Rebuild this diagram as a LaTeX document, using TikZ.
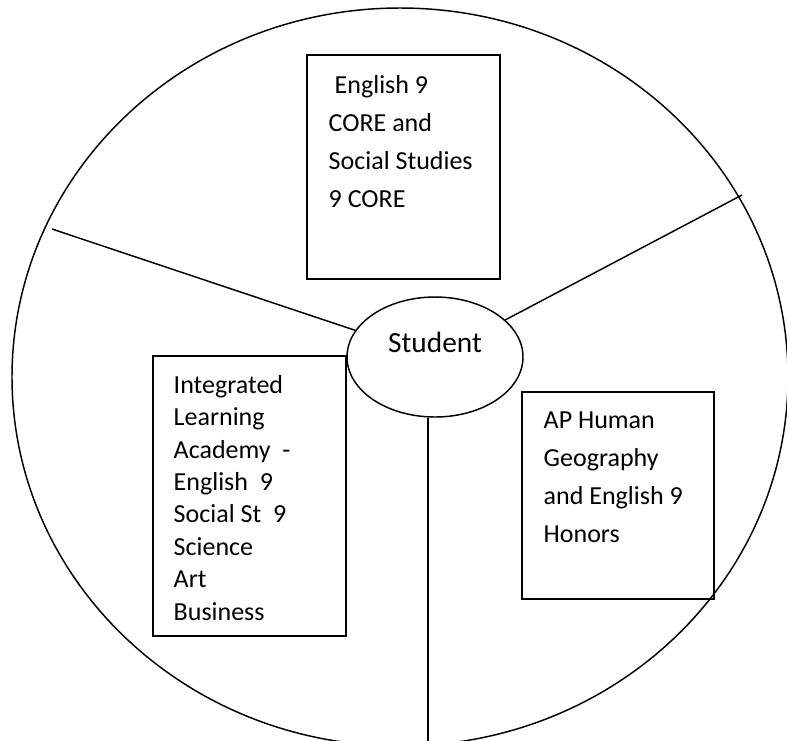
\documentclass[tikz,border=0pt]{standalone}
\usepackage{fontspec}
\setmainfont{Carlito}
\usetikzlibrary{shapes.geometric,fit}

\tikzset{every picture/.style={line width=1.1pt}}
\tikzset{
	subjbox/.style={draw, inner sep=0pt},
	subjtext/.style={anchor=north west, inner sep=0pt, align=left, font=\fontsize{19.5}{28.5}\selectfont},
	stuoval/.style={draw, ellipse, minimum width=132pt, minimum height=90pt, inner sep=0pt}}

\begin{document}
\begin{tikzpicture}[x=0.75pt,y=0.75pt,yscale=-1,xscale=1]
	\clip (0,0) rectangle (787,740);

	%Shape: Ellipse [outer ring]
	\draw (400,377) ellipse [x radius=388, y radius=369];

	%Shape: Ellipse [student]
	\node[stuoval, label={[font=\fontsize{22}{26}\selectfont, yshift=11pt]center:Student}] (stu) at (435,357) {};

	% ends of the dividers on the ring
	\coordinate (endL) at (52,229);
	\coordinate (endR) at (742,195);
	\coordinate (endB) at (428,741);

	%Straight Lines
	\draw (stu) -- (endL);
	\draw (stu) -- (endR);
	\draw (stu.south -| endB) -- (endB);

	%Shape: Rectangle [core]
	\node[subjbox, fit={(307,55) (500,279)}] (core) {};
	%Shape: Rectangle [ila]
	\node[subjbox, fit={(153,356) (346,636)}] (ila) {};
	%Shape: Rectangle [ap]
	\node[subjbox, fit={(522,392) (714,599)}] (ap) {};

	% Text Node
	\node[subjtext] (coretxt) at (328,74.5) {\hspace*{0.23em}English 9\\CORE and\\Social Studies\\9 CORE};
	% Text Node
	\node[subjtext, font=\fontsize{19.5}{24.3}\selectfont] (ilatxt) at (173,374.5) {Integrated\\Learning\\Academy~ -\\English~ 9\\Social St~ 9\\Science\\Art\\Business};
	% Text Node
	\node[subjtext] (aptxt) at (543,411) {AP Human\\Geography\\and English 9\\Honors};

\end{tikzpicture}
\end{document}
